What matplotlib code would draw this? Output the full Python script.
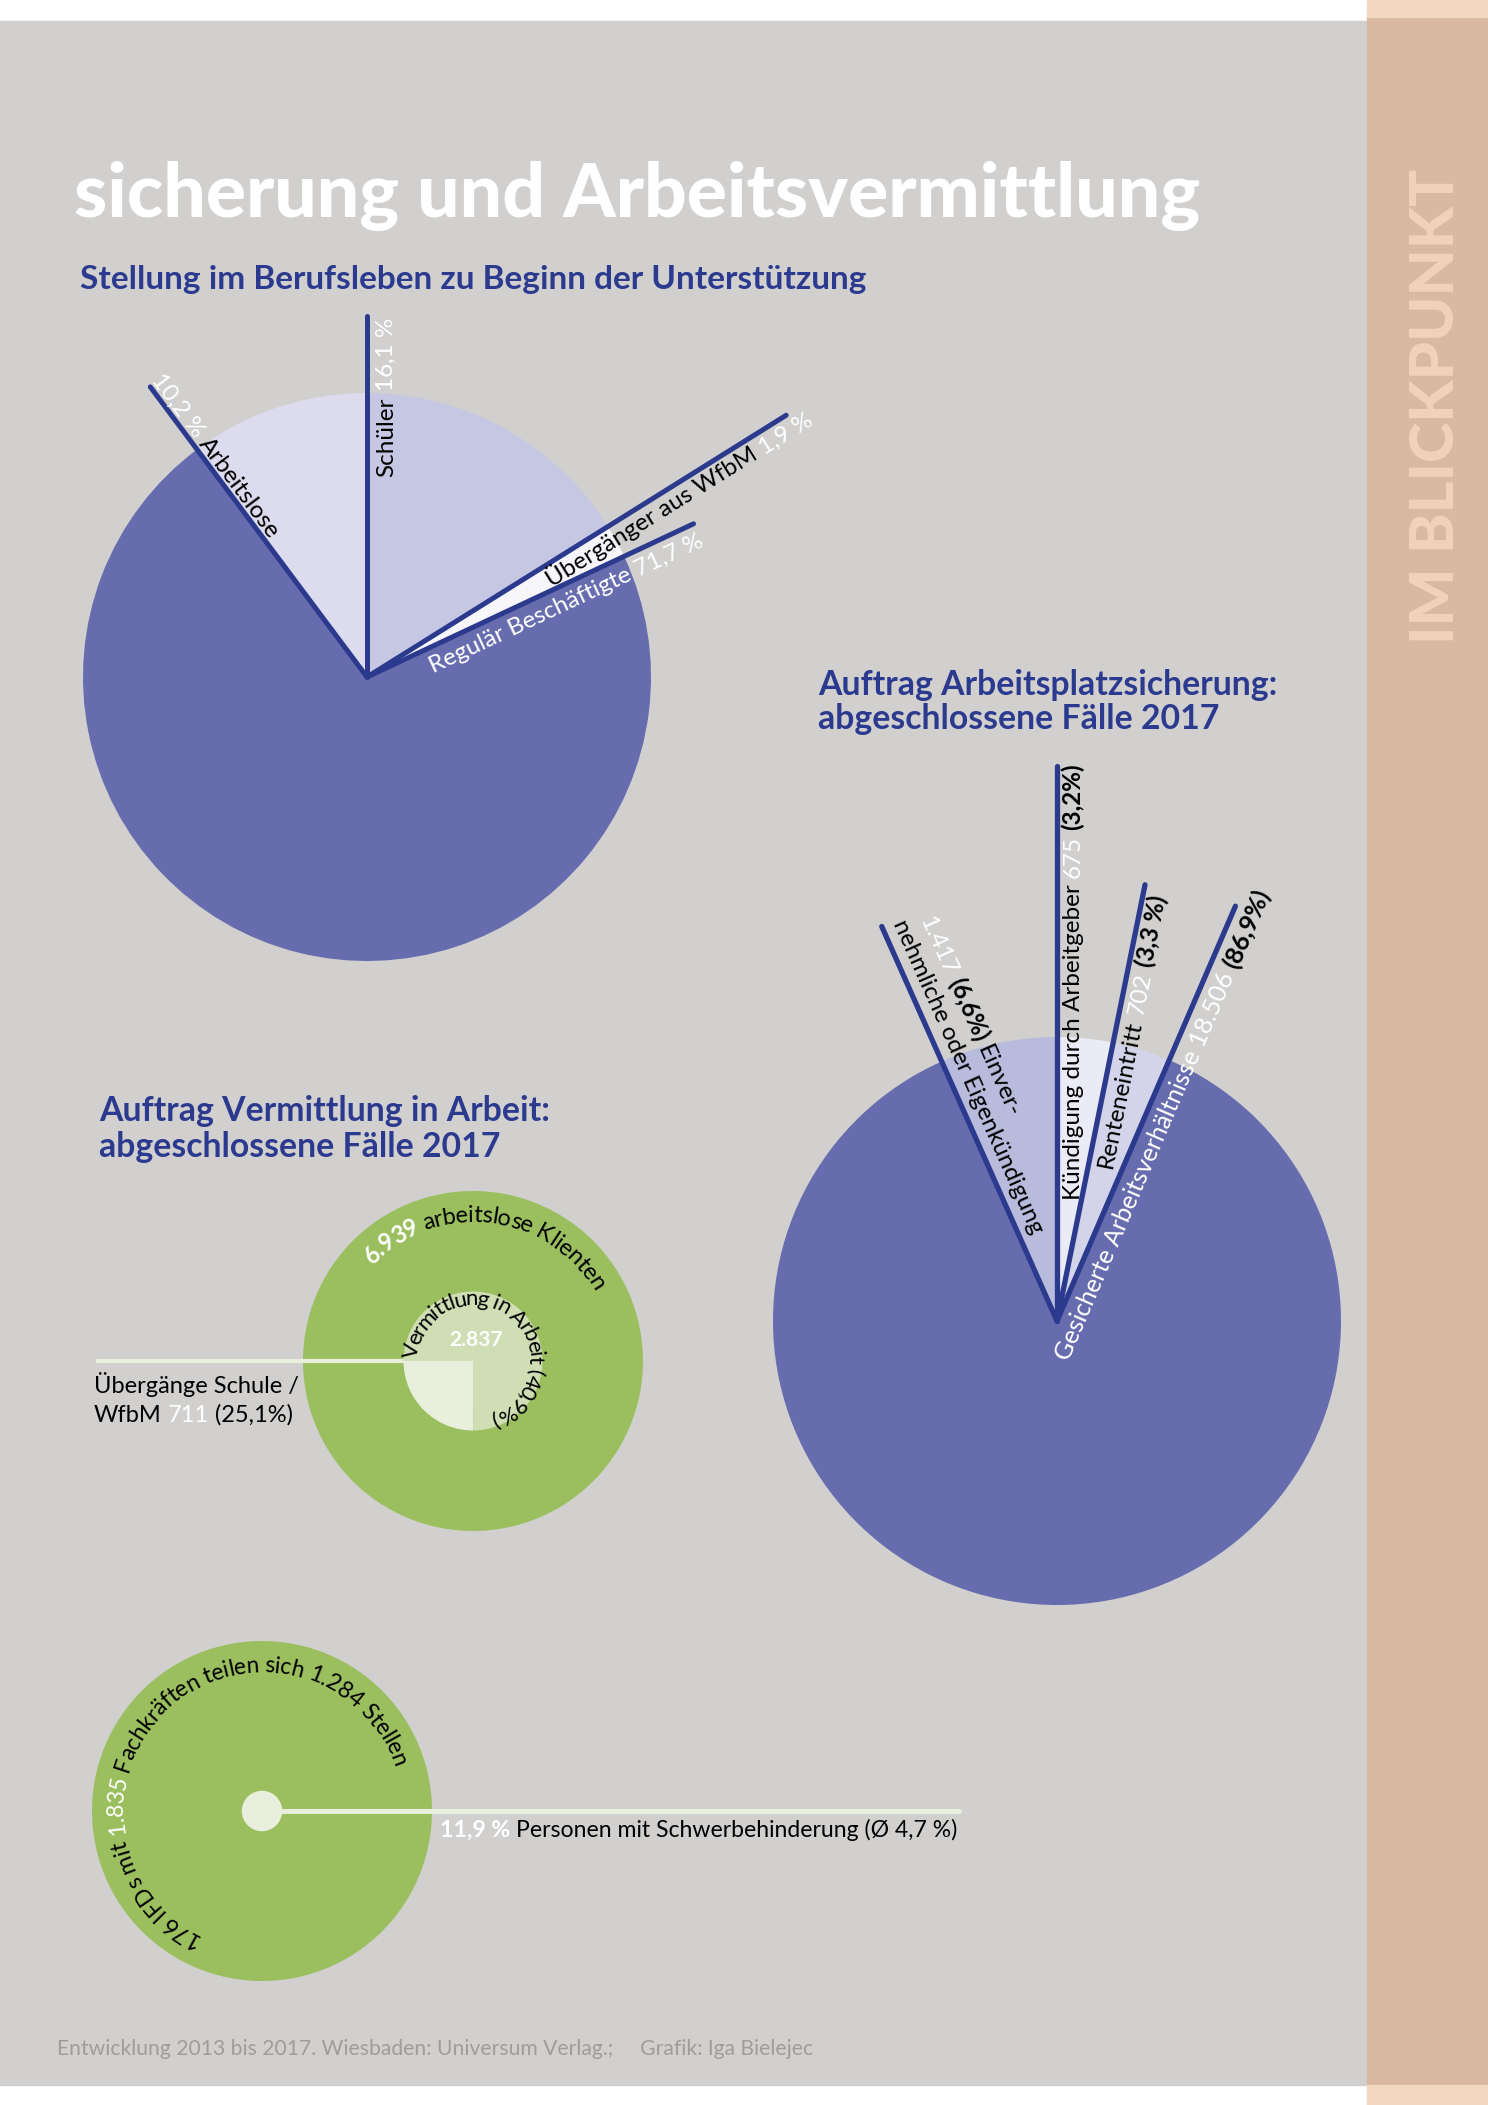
import numpy as np
import matplotlib.pyplot as plt
from matplotlib.patches import Rectangle, Circle
from matplotlib.font_manager import FontProperties

W, H = 1488, 2105
FONT = ['Lato', 'DejaVu Sans']

# ---------------- data ----------------
job_labels = ['Schüler', 'Übergänger aus WfbM', 'Regulär Beschäftigte', 'Arbeitslose']
job_share = [16.1, 1.9, 71.7, 10.2]

secure_labels = ['Kündigung durch Arbeitgeber', 'Renteneintritt',
                 'Gesicherte Arbeitsverhältnisse', 'Einvernehmliche oder Eigenkündigung']
secure_cases = [675, 702, 18506, 1417]
secure_share = [3.2, 3.3, 86.9, 6.6]

clients_total = 6939
placed_total = 2837
placed_school = 711
placed_school_share = 25.1
placed_share = 40.9

ifd_count = 176
ifd_staff = 1835
ifd_positions = 1284
disabled_share = 11.9
disabled_avg = 4.7

# ---------------- colours ----------------
BG = '#d1d0ce'
BLUE = '#2b3a8f'
LINE = '#2c3a8e'
job_colors = ['#c5c7e3', '#f7f7fb', '#666cad', '#dcdcee']
secure_colors = ['#ebebf6', '#d3d4ea', '#666cad', '#b9bbdc']
GREEN = '#9bbf5f'
GREEN_MID = '#cfdeb4'
GREEN_LIGHT = '#e8efdc'


def de_pct(v):
    return f'{v:.1f}'.replace('.', ',')


def de_int(n):
    return f'{n:,}'.replace(',', '.')


def P(x, y):
    # page pixel (y down) -> data coords (y up)
    return np.array([x, H - y], dtype=float)


fig = plt.figure(figsize=(W / 100, H / 100), dpi=100, facecolor='white')
ax = fig.add_axes([0, 0, 1, 1])
renderer = fig.canvas.get_renderer()


def adv(s, size, weight='normal'):
    fp = FontProperties(family=FONT, size=size, weight=weight)
    w1 = renderer.get_text_width_height_descent('|' + s + '|', fp, ismath=False)[0]
    w0 = renderer.get_text_width_height_descent('||', fp, ismath=False)[0]
    return w1 - w0


def run_text(start, angle, segs, size):
    a = np.radians(angle)
    d = np.array([np.cos(a), np.sin(a)])
    cur = 0.0
    for txt, col, wt in segs:
        body = txt.strip(' ')
        lead = len(txt) - len(txt.lstrip(' '))
        trail = len(txt) - len(txt.rstrip(' '))
        cur += lead * adv(' ', size, wt)
        x, y = start + cur * d
        ax.text(x, y, body, rotation=angle, rotation_mode='anchor', ha='left',
                va='baseline', color=col, fontsize=size, fontweight=wt,
                family=FONT, zorder=6)
        cur += adv(body, size, wt) + trail * adv(' ', size, wt)


def line_label(c, ang, s0, p, segs, size=17.5, inward=False):
    a = np.radians(ang)
    u = np.array([np.cos(a), np.sin(a)])
    rot = ang - 180 if inward else ang
    r = np.radians(rot)
    nup = np.array([-np.sin(r), np.cos(r)])
    run_text(c + s0 * u + p * nup, rot, segs, size)


def arc_text(c, rb, ang0, segs, size, r_adv=None):
    # characters sit on radius rb, advance measured on radius r_adv
    r_adv = r_adv or rb
    th = np.radians(ang0)
    for txt, col, wt in segs:
        for ch in txt:
            w = adv(ch, size, wt)
            tc = th - w / 2 / r_adv
            if ch != ' ':
                ax.text(c[0] + rb * np.cos(tc), c[1] + rb * np.sin(tc), ch,
                        rotation=np.degrees(tc) - 90, rotation_mode='anchor',
                        ha='center', va='baseline', color=col, fontsize=size,
                        fontweight=wt, family=FONT, zorder=6)
            th -= w / r_adv


def start_angles(values):
    v = np.asarray(values, dtype=float)
    cum = np.concatenate([[0], np.cumsum(v)[:-1]])
    return 90 - 360 * cum / v.sum()


# ---------------- page background ----------------
ax.add_patch(Rectangle(P(0, 2085), 1367, 2085 - 21, color=BG, zorder=0))
ax.add_patch(Rectangle(P(1367, 2085), W - 1367, 2085 - 17, color='#d9b99f', zorder=0))
ax.add_patch(Rectangle(P(1367, 17), W - 1367, 17, color='#f2d8c0', zorder=0))
ax.add_patch(Rectangle(P(1367, H), W - 1367, H - 2085, color='#f2d8c0', zorder=0))
ax.text(*P(1436, 406), 'IM BLICKPUNKT', rotation=90, ha='center', va='center',
        fontsize=44, fontweight=900, color='#f0d3b8', family=FONT)

ax.text(*P(74, 217), 'sicherung und Arbeitsvermittlung', fontsize=54,
        fontweight=900, color='white', family=FONT, va='baseline')
ax.text(*P(80, 289), 'Stellung im Berufsleben zu Beginn der Unterstützung',
        fontsize=24, fontweight='bold', color=BLUE, family=FONT, va='baseline')

# ---------------- pie 1: Stellung im Berufsleben ----------------
C1, R1 = P(367, 677), 284
ax.pie(job_share, colors=job_colors, startangle=90, counterclock=False,
       radius=R1, center=C1, wedgeprops=dict(linewidth=0))
job_line = [1.27, 1.74, 1.27, 1.275]
ang1 = start_angles(job_share)
for a, f in zip(ang1, job_line):
    e = C1 + f * R1 * np.array([np.cos(np.radians(a)), np.sin(np.radians(a))])
    ax.plot([C1[0], e[0]], [C1[1], e[1]], color=LINE, lw=3.6,
            solid_capstyle='round', zorder=5)

line_label(C1, ang1[0], 200, -26, [(job_labels[0] + ' ', 'black', 'normal'),
                                    (de_pct(job_share[0]) + ' %', 'white', 'normal')])
line_label(C1, ang1[1], 204, -22, [(job_labels[1] + ' ', 'black', 'normal'),
                                    (de_pct(job_share[1]) + ' %', 'white', 'normal')])
line_label(C1, ang1[2], 62, -25, [(job_labels[2] + ' ' + de_pct(job_share[2]) + ' %',
                                   'white', 'normal')])
line_label(C1, ang1[3], 367, 4, [(de_pct(job_share[3]) + ' % ', 'white', 'normal'),
                                  (job_labels[3], 'black', 'normal')], inward=True)

# ---------------- pie 2: Arbeitsplatzsicherung ----------------
ax.text(*P(818, 695), 'Auftrag Arbeitsplatzsicherung:', fontsize=24.3,
        fontweight='bold', color=BLUE, family=FONT, va='baseline')
ax.text(*P(818, 729), 'abgeschlossene Fälle 2017', fontsize=24.3,
        fontweight='bold', color=BLUE, family=FONT, va='baseline')

C2, R2 = P(1057, 1321), 284
ax.pie(secure_cases, colors=secure_colors, startangle=90, counterclock=False,
       radius=R2, center=C2, wedgeprops=dict(linewidth=0))
secure_line = [1.955, 1.567, 1.59, 1.52]
ang2 = start_angles(secure_cases)
for a, f in zip(ang2, secure_line):
    e = C2 + f * R2 * np.array([np.cos(np.radians(a)), np.sin(np.radians(a))])
    ax.plot([C2[0], e[0]], [C2[1], e[1]], color=LINE, lw=3.8,
            solid_capstyle='round', zorder=5)

line_label(C2, ang2[0], 121, -23, [(secure_labels[0] + ' ', 'black', 'normal'),
                                    (de_int(secure_cases[0]) + ' ', 'white', 'normal'),
                                    ('(' + de_pct(secure_share[0]) + '%)', 'black', 'bold')])
line_label(C2, ang2[1], 160, -24, [(secure_labels[1] + ' ', 'black', 'normal'),
                                    (de_int(secure_cases[1]) + ' ', 'white', 'normal'),
                                    ('(' + de_pct(secure_share[1]) + ' %)', 'black', 'bold')])
line_label(C2, ang2[2], -33, -27, [(secure_labels[2] + ' ' + de_int(secure_cases[2]) + ' ',
                                    'white', 'normal'),
                                   ('(' + de_pct(secure_share[2]) + '%)', 'black', 'bold')],
           size=18)
line_label(C2, ang2[3], 422, 37, [(de_int(secure_cases[3]) + ' ', 'white', 'normal'),
                                   ('(' + de_pct(secure_share[3]) + '%) ', 'black', 'bold'),
                                   ('Einver-', 'black', 'normal')], inward=True)
line_label(C2, ang2[3], 430, 11, [('nehmliche oder Eigenkündigung', 'black', 'normal')],
           inward=True)

# ---------------- Vermittlung in Arbeit ----------------
ax.text(*P(99, 1121), 'Auftrag Vermittlung in Arbeit:', fontsize=24.3,
        fontweight='bold', color=BLUE, family=FONT, va='baseline')
ax.text(*P(99, 1157), 'abgeschlossene Fälle 2017', fontsize=24.3,
        fontweight='bold', color=BLUE, family=FONT, va='baseline')

C3, R3 = P(473, 1361), 170
ax.pie([clients_total], colors=[GREEN], radius=R3, center=C3,
       wedgeprops=dict(linewidth=0))
ax.plot([C3[0], 96], [C3[1], C3[1]], color=GREEN_LIGHT, lw=3, zorder=4,
        solid_capstyle='butt')
r_in = R3 * placed_total / clients_total
inner = ax.pie([placed_school, placed_total - placed_school],
               colors=[GREEN_LIGHT, GREEN_MID], startangle=180, counterclock=True,
               radius=r_in, center=C3, wedgeprops=dict(linewidth=0))
for w in inner[0]:
    w.set_zorder(5)

arc_text(C3, 139, 136, [(de_int(clients_total) + ' ', 'white', 'bold'),
                        ('arbeitslose Klienten', 'black', 'normal')], 17, r_adv=146)
arc_text(C3, 56, 177, [('Vermittlung in Arbeit (' + de_pct(placed_share) + '%)',
                        'black', 'normal')], 16, r_adv=66)
ax.text(*P(476, 1346), de_int(placed_total), ha='center', va='baseline',
        fontsize=15, fontweight='bold', color='white', family=FONT, zorder=6)
ax.text(*P(94, 1393), 'Übergänge Schule /', fontsize=17, color='black',
        family=FONT, va='baseline')
run_text(P(94, 1422), 0, [('WfbM ', 'black', 'normal'),
                          (de_int(placed_school) + ' ', 'white', 'normal'),
                          ('(' + de_pct(placed_school_share) + '%)', 'black', 'normal')], 17)

# ---------------- IFD circle ----------------
C4, R4 = P(262, 1811), 170
ax.add_patch(Circle(C4, R4, color=GREEN, lw=0, zorder=2))
ax.plot([C4[0], 959], [C4[1], C4[1]], color=GREEN_LIGHT, lw=3.6, zorder=4,
        solid_capstyle='round')
ax.add_patch(Circle(C4, R4 * disabled_share / 100, color=GREEN_LIGHT, lw=0, zorder=5))
arc_text(C4, 139, 244, [(f'{ifd_count} IFDs mit ', 'black', 'normal'),
                        (de_int(ifd_staff), 'white', 'normal'),
                        (f' Fachkräften teilen sich {de_int(ifd_positions)} Stellen',
                         'black', 'normal')], 16.5, r_adv=144)
run_text(P(440, 1837), 0, [(de_pct(disabled_share) + ' % ', 'white', 'bold'),
                           (f'Personen mit Schwerbehinderung (Ø {de_pct(disabled_avg)} %)',
                            'black', 'normal')], 16.6)

ax.text(*P(57, 2055), 'Entwicklung 2013 bis 2017. Wiesbaden: Universum Verlag.;     '
        'Grafik: Iga Bielejec', fontsize=15.2, color='#9f9d9c', family=FONT,
        va='baseline')

ax.set_xlim(0, W)
ax.set_ylim(0, H)
ax.set_aspect('auto')
ax.axis('off')
fig.savefig('out.png', dpi=100, facecolor='white')
